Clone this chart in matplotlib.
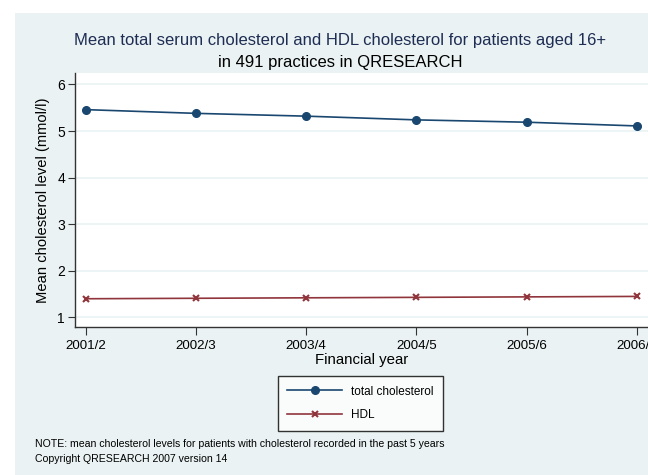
import numpy as np
import matplotlib
matplotlib.use("Agg")
import matplotlib.pyplot as plt
from matplotlib.patches import Rectangle
from matplotlib.lines import Line2D

plt.rcParams['font.family'] = ['Liberation Sans', 'DejaVu Sans']

# data
years = ["2001/2", "2002/3", "2003/4", "2004/5", "2005/6", "2006/7"]
total_chol = [5.46, 5.38, 5.32, 5.24, 5.19, 5.11]
hdl_chol = [1.40, 1.41, 1.42, 1.43, 1.44, 1.45]

navy = "#1a476f"
maroon = "#90353b"
bg = "#eaf2f3"

W, H = 648, 475
fig = plt.figure(figsize=(W/100, H/100), dpi=100, facecolor="white")

# light panel behind everything
fig.patches.append(Rectangle((15/W, 0), 1, 1 - 13/H, transform=fig.transFigure,
                             facecolor=bg, edgecolor="none", zorder=-10))

ax = fig.add_axes([74.7/W, 1 - 327.3/H, (648 - 74.7)/W, (327.3 - 73.3)/H])
ax.set_facecolor("white")

x = np.arange(len(years))
ax.plot(x, total_chol, color=navy, lw=1.2, marker="o", ms=5.5, zorder=3)
ax.plot(x, hdl_chol, color=maroon, lw=1.2, marker="x", ms=5, mew=1.5, zorder=3)

ax.set_xlim(-0.1, 5.1)
ax.set_ylim(0.787, 6.24)
ax.set_yticks([1, 2, 3, 4, 5, 6])
ax.set_xticks(x)
ax.set_xticklabels(years)
ax.grid(axis="y", color=bg, lw=1.2, zorder=0)
ax.set_axisbelow(True)

for s in ["top", "right"]:
    ax.spines[s].set_visible(False)
for s in ["left", "bottom"]:
    ax.spines[s].set_color("#333333")
    ax.spines[s].set_linewidth(1.0)

ax.tick_params(axis="y", length=5, width=0.8, color="#333333", labelsize=10, pad=2)
ax.tick_params(axis="x", length=6, width=0.8, color="#333333", labelsize=9.6, pad=3)

ax.set_ylabel("Mean cholesterol level (mmol/l)", fontsize=10.6, labelpad=5)
ax.set_xlabel("Financial year", fontsize=10.8, labelpad=1)

fig.text(340/W, 1 - 41/H, "Mean total serum cholesterol and HDL cholesterol for patients aged 16+",
         ha="center", va="center", fontsize=12, color="#1e2d53")
fig.text(340/W, 1 - 62/H, "in 491 practices in QRESEARCH",
         ha="center", va="center", fontsize=12, color="black")

handles = [Line2D([], [], color=navy, lw=1.2, marker="o", ms=5.5),
           Line2D([], [], color=maroon, lw=1.2, marker="x", ms=5, mew=1.5)]
leg = fig.legend(handles, ["total cholesterol", "HDL"], loc="center",
                 bbox_to_anchor=(360.5/W, 1 - 403.5/H), fontsize=8.5,
                 frameon=True, fancybox=False, edgecolor="black",
                 handlelength=4.6, labelspacing=1.0, borderpad=0.8)
leg.get_frame().set_linewidth(1.0)
leg.get_frame().set_facecolor("white")

fig.text(35/W, 1 - 444/H, "NOTE: mean cholesterol levels for patients with cholesterol recorded in the past 5 years",
         ha="left", va="center", fontsize=7.6)
fig.text(35/W, 1 - 459/H, "Copyright QRESEARCH 2007 version 14",
         ha="left", va="center", fontsize=7.6)

fig.savefig("out.png", dpi=100, facecolor="white")
